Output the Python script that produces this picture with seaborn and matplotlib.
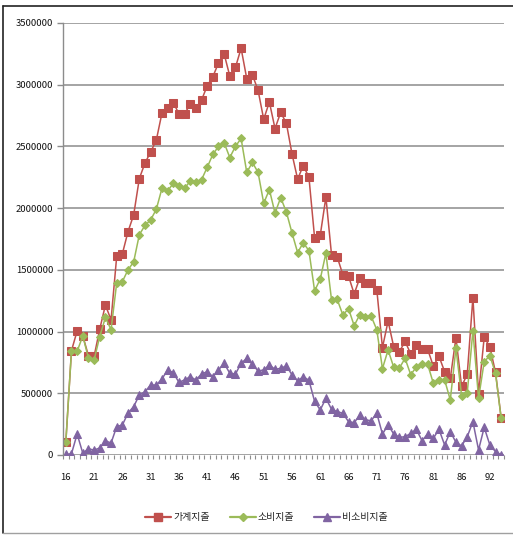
import numpy as np
import pandas as pd
import seaborn as sns
import matplotlib.pyplot as plt
from matplotlib.lines import Line2D

# ages (one age between 87 and 91 has no data in the source table)
ages = list(range(16, 90)) + list(range(91, 95))

household = [105000, 845000, 1005000, 965000, 805000, 800000, 1020000, 1215000, 1095000, 1610000,
             1630000, 1810000, 1945000, 2240000, 2365000, 2455000, 2550000, 2770000, 2810000, 2855000,
             2765000, 2765000, 2840000, 2810000, 2875000, 2990000, 3065000, 3175000, 3250000, 3070000,
             3140000, 3295000, 3050000, 3080000, 2955000, 2720000, 2860000, 2645000, 2775000, 2690000,
             2440000, 2235000, 2345000, 2250000, 1760000, 1780000, 2090000, 1620000, 1605000, 1460000,
             1450000, 1305000, 1435000, 1395000, 1395000, 1340000, 870000, 1085000, 875000, 837000,
             920000, 820000, 895000, 856000, 856000, 720000, 800000, 675000, 620000, 950000,
             555000, 655000, 1275000, 495000, 955000, 875000, 670000, 300000]

consumption = [105000, 845000, 840000, 965000, 785000, 770000, 960000, 1115000, 1015000, 1395000,
               1405000, 1500000, 1565000, 1785000, 1860000, 1905000, 1990000, 2160000, 2140000, 2200000,
               2180000, 2160000, 2220000, 2215000, 2230000, 2330000, 2435000, 2500000, 2530000, 2410000,
               2500000, 2565000, 2290000, 2370000, 2290000, 2040000, 2150000, 1960000, 2085000, 1970000,
               1800000, 1640000, 1720000, 1655000, 1330000, 1425000, 1635000, 1255000, 1260000, 1135000,
               1185000, 1048000, 1138000, 1121000, 1125000, 1015000, 700000, 851000, 710000, 705000,
               783000, 651000, 713000, 735000, 735000, 581000, 608000, 608000, 446000, 865000,
               481000, 505000, 1007000, 459000, 756000, 805000, 662000, 297000]

non_consumption = [5000, 10000, 170000, 15000, 50000, 40000, 57000, 115000, 97000, 230000,
                   243000, 340000, 392000, 486000, 513000, 567000, 567000, 616000, 689000, 667000,
                   589000, 608000, 635000, 608000, 656000, 675000, 635000, 689000, 743000, 662000,
                   656000, 743000, 783000, 735000, 681000, 689000, 729000, 694000, 702000, 722000,
                   650000, 600000, 635000, 605000, 435000, 365000, 459000, 370000, 351000, 338000,
                   270000, 262000, 324000, 284000, 278000, 338000, 170000, 243000, 170000, 143000,
                   148000, 175000, 208000, 116000, 170000, 135000, 208000, 81000, 189000, 103000,
                   73000, 148000, 270000, 41000, 224000, 81000, 27000, 0]

series_names = ['가계지출', '소비지출', '비소비지출']
colors = ['#C0504D', '#9BBB59', '#8064A2']
markers = ['s', 'D', '^']
sizes = [5.5, 4.0, 5.5]

pos = np.arange(len(ages))
df = pd.DataFrame({'pos': pos, '가계지출': household, '소비지출': consumption, '비소비지출': non_consumption})

sns.set_theme(style='white')
plt.rcParams['font.family'] = ['Noto Sans CJK KR', 'DejaVu Sans']

fig = plt.figure(figsize=(5.13, 5.35), dpi=100)
ax = fig.add_axes([63 / 513, 1 - 455 / 535, 441 / 513, 432 / 535])

for name, c, m, s in zip(series_names, colors, markers, sizes):
    sns.lineplot(data=df, x='pos', y=name, color=c, marker=m, markersize=s,
                 markeredgecolor=c, linewidth=1.1, ax=ax, label=name)

ax.set_xlim(-0.5, len(ages) - 0.5)
ax.set_ylim(0, 3500000)
ax.set_yticks(np.arange(0, 3500001, 500000))
ax.set_yticklabels([str(v) for v in range(0, 3500001, 500000)])
ax.set_xticks(pos[::5])
ax.set_xticklabels([str(a) for a in ages[::5]])
ax.set_xticks(np.arange(-0.5, len(ages), 1), minor=True)
ax.set_xlabel('')
ax.set_ylabel('')

ax.grid(axis='y', color='#8c8c8c', linewidth=1.1)
ax.set_axisbelow(True)
for sp in ['top', 'right', 'bottom']:
    ax.spines[sp].set_visible(False)
ax.spines['left'].set_color('#8c8c8c')
ax.spines['left'].set_linewidth(1.0)

ax.tick_params(axis='y', left=True, length=4, width=1, color='#8c8c8c', labelsize=6.8, pad=3, labelcolor='#111111')
ax.tick_params(axis='x', which='major', bottom=True, length=0, labelsize=6.8, pad=13, labelcolor='#111111')
ax.tick_params(axis='x', which='minor', bottom=True, length=3, width=0.8, color='#8c8c8c')

ax.legend_.remove()
handles = [Line2D([0], [0], color=c, marker=m, markersize=s, linewidth=1.6)
           for c, m, s in zip(colors, markers, sizes)]
fig.legend(handles, series_names, loc='center', bbox_to_anchor=(0.52, 0.033), ncol=3,
           frameon=False, fontsize=7.2, handlelength=2.6, columnspacing=2.0, handletextpad=0.2)

# chart area frame
fig.add_artist(Line2D([3 / 513, 3 / 513], [1 - 533 / 535, 1 - 6 / 535], transform=fig.transFigure, color='#222222', linewidth=1.2))
fig.add_artist(Line2D([3 / 513, 1], [1 - 6 / 535, 1 - 6 / 535], transform=fig.transFigure, color='#222222', linewidth=1.2))
fig.add_artist(Line2D([3 / 513, 1], [1 - 533 / 535, 1 - 533 / 535], transform=fig.transFigure, color='#a0a0a0', linewidth=1.0))

fig.savefig('out.png', dpi=100)
